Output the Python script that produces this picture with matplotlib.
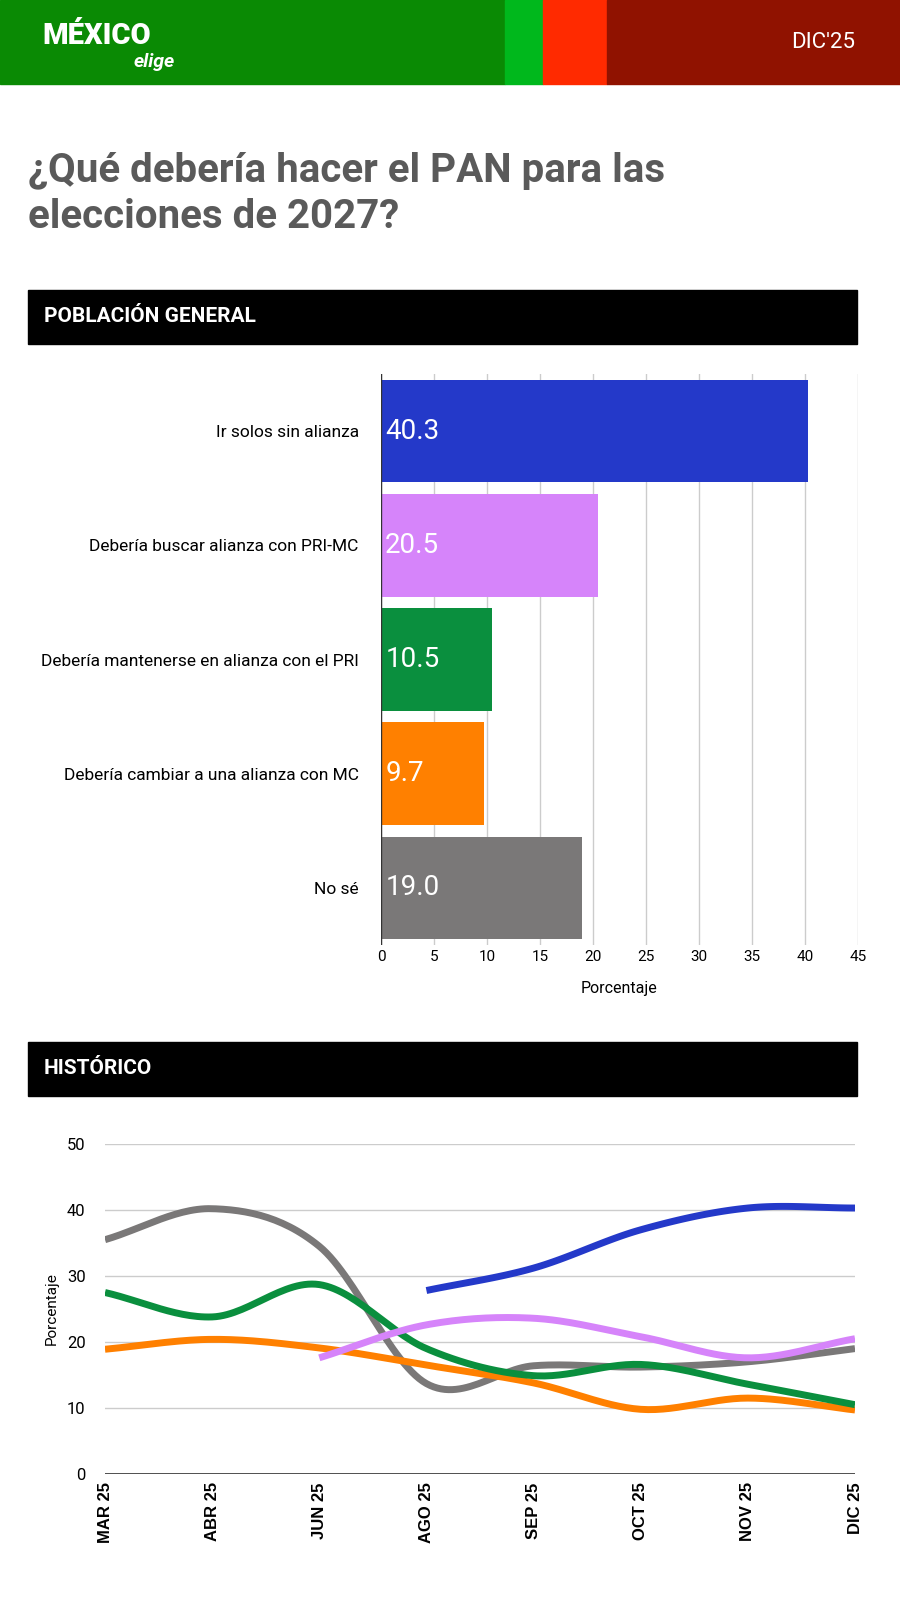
import matplotlib
matplotlib.use("Agg")
import matplotlib.pyplot as plt
import numpy as np
from matplotlib.patches import Rectangle

plt.rcParams['font.family'] = ['Roboto', 'DejaVu Sans']

categories = ["Ir solos sin alianza", "Debería buscar alianza con PRI-MC",
              "Debería mantenerse en alianza con el PRI",
              "Debería cambiar a una alianza con MC", "No sé"]
values = [40.3, 20.5, 10.5, 9.7, 19.0]
colors = ["#2439c9", "#d684fa", "#0a8f3e", "#ff8000", "#7a7878"]

months = ["MAR 25", "ABR 25", "JUN 25", "AGO 25", "SEP 25", "OCT 25", "NOV 25", "DIC 25"]
s_solos = [None, None, None, 27.8, 31.2, 37.0, 40.3, 40.3]
s_primc = [None, None, 17.6, 22.6, 23.6, 20.8, 17.6, 20.5]
s_pri = [27.5, 23.8, 28.7, 19.0, 14.9, 16.6, 13.6, 10.5]
s_mc = [18.9, 20.4, 19.1, 16.5, 13.8, 9.8, 11.5, 9.7]
s_nose = [35.5, 40.2, 34.5, 13.7, 16.4, 16.2, 17.0, 19.0]

W, H = 900, 1600
fig = plt.figure(figsize=(9, 16), dpi=100)

def fx(x): return x / W
def fy(y): return 1 - y / H

bg = fig.add_axes([0, 0, 1, 1]); bg.set_xlim(0, W); bg.set_ylim(H, 0); bg.axis('off')
for x0, x1, c in [(0, 505, "#0a8a04"), (505, 543, "#00b81c"), (543, 607, "#ff2a00"), (607, 900, "#901200")]:
    bg.add_patch(Rectangle((x0, 0), x1 - x0, 84, color=c))
bg.text(42, 36, "MÉXICO", color="white", fontsize=21, fontweight="black", va="center")
bg.text(134, 62, "elige", color="white", fontsize=14, fontweight="bold", style="italic", va="center")
bg.text(855, 43, "DIC'25", color="white", fontsize=16, ha="right", va="center")
bg.text(28, 171, "¿Qué debería hacer el PAN para las", color="#5a5a5a", fontsize=29, fontweight="bold", va="center")
bg.text(28, 217, "elecciones de 2027?", color="#5a5a5a", fontsize=29, fontweight="bold", va="center")
for y0, t in [(290, "POBLACIÓN GENERAL"), (1042, "HISTÓRICO")]:
    bg.add_patch(Rectangle((28, y0), 829, 54, color="black"))
    bg.text(44, y0 + 27, t, color="white", fontsize=15, fontweight="bold", va="center")

# Bar chart
ax = fig.add_axes([fx(381), fy(945), fx(858 - 381), (945 - 374) / H])
y = np.arange(len(categories))
ax.barh(y, values, color=colors, height=0.9)
ax.set_ylim(len(categories) - 0.5, -0.5)
ax.set_xlim(0, 45)
ax.set_xticks(range(0, 50, 5))
ax.set_yticks(y)
ax.set_yticklabels(categories)
ax.tick_params(length=0, labelsize=11)
ax.tick_params(axis='y', labelsize=12.5, pad=16)
ax.grid(axis='x', color="#cccccc", lw=1)
ax.set_axisbelow(True)
for s in ax.spines.values(): s.set_visible(False)
ax.axvline(0, color="#333333", lw=1)
for i, v in enumerate(values):
    ax.text(0.4, i, f"{v:.1f}", color="white", fontsize=20, va="center")
ax.set_xlabel("Porcentaje", fontsize=11.5, labelpad=12)

# Line chart
lx = fig.add_axes([fx(105), fy(1474), fx(855 - 105), (1474 - 1144) / H])
xi = np.arange(len(months))

def smooth(xs, ys, n=30):
    xs = np.asarray(xs, float); ys = np.asarray(ys, float)
    m = np.gradient(ys, xs)
    out_x, out_y = [], []
    for k in range(len(xs) - 1):
        t = np.linspace(0, 1, n)
        h = xs[k + 1] - xs[k]
        h00 = 2*t**3 - 3*t**2 + 1; h10 = t**3 - 2*t**2 + t
        h01 = -2*t**3 + 3*t**2; h11 = t**3 - t**2
        out_x.extend(xs[k] + t*h)
        out_y.extend(h00*ys[k] + h10*h*m[k] + h01*ys[k+1] + h11*h*m[k+1])
    return out_x, out_y

for ser, c in [(s_nose, colors[4]), (s_mc, colors[3]), (s_pri, colors[2]), (s_primc, colors[1]), (s_solos, colors[0])]:
    pts = [(x, v) for x, v in zip(xi, ser) if v is not None]
    sx, sy = smooth([p[0] for p in pts], [p[1] for p in pts])
    lx.plot(sx, sy, color=c, lw=5, solid_capstyle='butt')
lx.set_xlim(0, len(months) - 1)
lx.set_ylim(0, 50)
lx.set_yticks(range(0, 60, 10))
lx.set_xticks(xi)
lx.set_xticklabels(months, rotation=90, fontsize=10, fontweight="bold", family=["Liberation Sans"])
lx.tick_params(length=0, labelsize=12)
lx.tick_params(axis='y', pad=14)
lx.tick_params(axis='x', pad=6)
lx.grid(axis='y', color="#cccccc", lw=1)
lx.set_axisbelow(True)
for s in lx.spines.values(): s.set_visible(False)
lx.axhline(0, color="#333333", lw=1.2)
lx.set_ylabel("Porcentaje", fontsize=11, labelpad=6)

fig.savefig("out.png", dpi=100, facecolor="white")
